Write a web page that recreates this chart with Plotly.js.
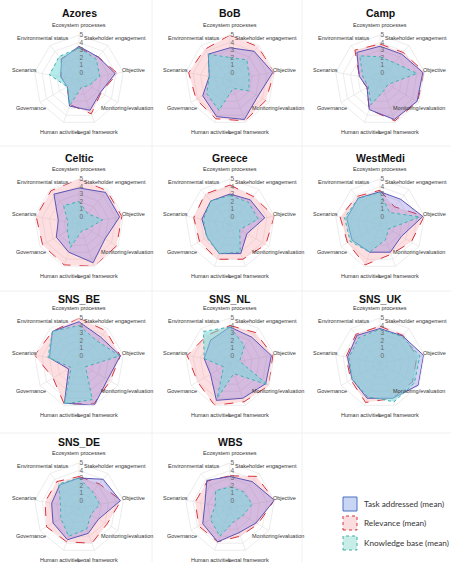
<!DOCTYPE html>
<html><head><meta charset="utf-8">
<script src="https://cdn.plot.ly/plotly-3.0.1.min.js"></script>
<style>html,body{margin:0;padding:0;background:#fff;} #chart{width:451px;height:562px;}</style>
</head><body><div id="chart"></div>
<script>
// axis order, clockwise from top
const categories = ['Ecosystem processes','Stakeholder engagement','Objective','Monitoring/evaluation','Legal framework','Human activities','Governance','Scenarios','Environmental status'];
const radialTicks = [0,1,2,3,4,5];
const regions = ['Azores','BoB','Camp','Celtic','Greece','WestMedi','SNS_BE','SNS_NL','SNS_UK','SNS_DE','WBS'];
const seriesNames = ['Task addressed (mean)','Relevance (mean)','Knowledge base (mean)'];

const taskAzores     = [3.5, 3.0, 3.9, 2.3, 3.3, 2.7, 0.8, 1.5, 2.6];
const relevAzores    = [3.3, 3.0, 4.2, 2.4, 3.8, 2.5, 0.8, 1.4, 2.7];
const knowAzores     = [3.3, 2.6, 1.8, 0.5, 0.0, 2.6, 0.8, 3.0, 3.1];

const taskBoB        = [3.3, 4.0, 4.8, 3.3, 4.6, 4.2, 3.2, 1.8, 3.5];
const relevBoB       = [5.0, 4.8, 5.0, 4.5, 4.8, 4.5, 4.2, 4.6, 4.3];
const knowBoB        = [2.0, 2.5, 1.6, 1.9, 0.2, 3.3, 2.6, 1.8, 3.5];

const taskCamp       = [3.5, 3.5, 4.8, 4.7, 4.6, 3.2, 1.0, 1.8, 3.8];
const relevCamp      = [3.8, 3.8, 5.0, 4.8, 4.8, 3.2, 1.0, 1.8, 4.2];
const knowCamp       = [2.1, 2.0, 4.0, 0.2, 0.5, 2.5, 0.8, 1.3, 3.2];

const taskCeltic     = [3.8, 4.5, 4.5, 3.0, 4.5, 3.0, 2.5, 1.8, 4.2];
const relevCeltic    = [5.0, 4.8, 4.8, 4.8, 5.0, 4.8, 4.6, 4.8, 4.8];
const knowCeltic     = [2.0, 0.8, 2.2, 0.3, 0.0, 2.3, 0.8, 0.5, 2.2];

const taskGreece     = [3.0, 3.2, 3.7, 1.6, 3.2, 3.2, 2.5, 2.8, 3.0];
const relevGreece    = [4.2, 3.8, 5.0, 4.5, 4.0, 4.0, 3.7, 3.9, 4.2];
const knowGreece     = [2.8, 2.8, 2.8, 0.5, 3.0, 3.2, 2.6, 2.6, 3.0];

const taskWestMedi   = [3.3, 3.3, 4.8, 2.3, 3.0, 3.0, 3.3, 3.5, 3.5];
const relevWestMedi  = [3.5, 2.0, 5.0, 3.8, 3.3, 4.8, 4.0, 4.4, 3.8];
const knowWestMedi   = [3.2, 1.0, 4.4, 0.3, 1.2, 3.0, 3.6, 3.8, 3.5];

const taskSNS_BE     = [4.5, 3.5, 4.6, 3.4, 5.0, 4.7, 0.6, 3.0, 4.5];
const relevSNS_BE    = [5.0, 4.6, 4.6, 3.8, 4.8, 4.8, 3.0, 5.0, 4.5];
const knowSNS_BE     = [4.0, 2.8, 4.5, 0.0, 4.2, 4.8, 0.2, 3.2, 4.5];

const taskSNS_NL     = [3.8, 3.5, 4.6, 4.5, 4.0, 4.3, 2.0, 2.5, 3.0];
const relevSNS_NL    = [4.0, 4.3, 4.8, 5.0, 4.5, 5.0, 4.0, 4.8, 3.8];
const knowSNS_NL     = [3.8, 2.0, 0.3, 4.8, 0.5, 4.0, 0.0, 2.5, 4.5];

const taskSNS_UK     = [3.6, 3.7, 4.9, 4.9, 4.0, 4.0, 3.3, 3.4, 3.8];
const relevSNS_UK    = [3.9, 3.8, 4.0, 4.0, 4.0, 4.6, 3.5, 3.6, 4.0];
const knowSNS_UK     = [3.5, 3.6, 4.4, 4.3, 4.5, 3.8, 3.3, 3.2, 3.4];

const taskSNS_DE     = [3.0, 4.0, 4.6, 2.0, 2.6, 3.5, 3.0, 2.7, 3.0];
const relevSNS_DE    = [3.2, 3.2, 4.7, 3.3, 4.0, 3.8, 4.0, 3.6, 3.6];
const knowSNS_DE     = [3.0, 1.8, 1.8, 0.8, 2.0, 3.0, 1.8, 1.5, 3.2];

const taskWBS        = [3.2, 3.6, 5.0, 3.0, 2.5, 3.8, 3.2, 2.4, 3.8];
const relevWBS       = [3.3, 4.5, 5.0, 3.3, 3.0, 3.8, 3.8, 3.7, 3.7];
const knowWBS        = [1.8, 1.8, 2.0, 1.0, 0.8, 3.0, 2.0, 1.0, 2.0];

const taskData  = [taskAzores, taskBoB, taskCamp, taskCeltic, taskGreece, taskWestMedi, taskSNS_BE, taskSNS_NL, taskSNS_UK, taskSNS_DE, taskWBS];
const relevData = [relevAzores, relevBoB, relevCamp, relevCeltic, relevGreece, relevWestMedi, relevSNS_BE, relevSNS_NL, relevSNS_UK, relevSNS_DE, relevWBS];
const knowData  = [knowAzores, knowBoB, knowCamp, knowCeltic, knowGreece, knowWestMedi, knowSNS_BE, knowSNS_NL, knowSNS_UK, knowSNS_DE, knowWBS];

// ---- layout geometry (pixels) ----
const W = 451, H = 562, R = 45, LABEL_R = 1.23;
const colX = [79, 230, 380];
const rowY = [80, 224, 363, 508];
const titleY = [13, 158, 299, 442];

const styles = [
  {fill:'rgba(120,105,215,0.30)', line:{color:'#5a55b5', width:1, dash:'solid'}},
  {fill:'rgba(250,150,160,0.30)', line:{color:'#d8323c', width:1, dash:'dash'}},
  {fill:'rgba(120,218,218,0.55)', line:{color:'#3fb0b0', width:1, dash:'dot'}}
];
const order = [1, 0, 2]; // draw relevance, task, knowledge

const closeLoop = a => a.concat([a[0]]);
const thetaClosed = closeLoop(categories);
const FONT = 'Liberation Sans, Arial, sans-serif';
const LABEL_SIZE = 5.5;

const traces = [];
const layout = {
  width: W, height: H, margin:{l:0,r:0,t:0,b:0},
  paper_bgcolor:'#fff', showlegend:false,
  font:{family:FONT, color:'#333'},
  annotations:[], shapes:[]
};

regions.forEach((name, i) => {
  const row = Math.floor(i/3), col = i%3;
  const cx = colX[col], cy = rowY[row];
  const key = i === 0 ? 'polar' : 'polar' + (i+1);
  const sets = [taskData[i], relevData[i], knowData[i]];
  order.forEach(s => {
    traces.push({
      type:'scatterpolar', subplot:key, name:seriesNames[s],
      r: closeLoop(sets[s]), theta: thetaClosed,
      mode:'lines', fill:'toself', fillcolor:styles[s].fill,
      line:styles[s].line, hoverinfo:'skip'
    });
  });
  layout[key] = {
    domain:{x:[(cx-R)/W,(cx+R)/W], y:[1-(cy+R)/H, 1-(cy-R)/H]},
    bgcolor:'rgba(0,0,0,0)', gridshape:'linear',
    radialaxis:{range:[-1,5], tickvals:radialTicks, ticktext:radialTicks.map(String), angle:90, tickangle:90,
      showline:false, ticks:'', gridcolor:'#e4e4e4', gridwidth:0.7, layer:'above traces',
      tickfont:{size:6.5, color:'#666', family:FONT}},
    angularaxis:{type:'category', categoryarray:categories, direction:'clockwise', rotation:90,
      showline:true, linecolor:'#e4e4e4', linewidth:0.7, gridcolor:'#e4e4e4', gridwidth:0.7, ticks:'',
      showticklabels:false}
  };
  // category labels centred just outside the web, kept inside the page
  categories.forEach((c, k) => {
    const a = (90 - 40*k) * Math.PI/180;
    let lx = cx + LABEL_R*R*Math.cos(a);
    const ly = cy - LABEL_R*R*Math.sin(a);
    const halfW = c.length * LABEL_SIZE * 0.27;
    if (lx + halfW > W - 1) lx = W - 1 - halfW;
    if (lx - halfW < 1) lx = 1 + halfW;
    layout.annotations.push({xref:'paper', yref:'paper', x:lx/W, y:1-ly/H, xanchor:'center', yanchor:'middle',
      text:c, showarrow:false, font:{size:LABEL_SIZE, color:'#333', family:FONT}});
  });
  layout.annotations.push({xref:'paper', yref:'paper', x:cx/W, y:1-titleY[row]/H, xanchor:'center', yanchor:'middle',
    text:'<b>'+name+'</b>', showarrow:false, font:{size:10.5, color:'#111', family:FONT}});
});

// faint panel frames
const frameCol = '#f0f0f0';
[152, 302].forEach(x => layout.shapes.push({type:'line', xref:'paper', yref:'paper', x0:x/W, x1:x/W, y0:0, y1:1, line:{color:frameCol, width:1}}));
[146, 291, 433].forEach(y => layout.shapes.push({type:'line', xref:'paper', yref:'paper', x0:0, x1:1, y0:1-y/H, y1:1-y/H, line:{color:frameCol, width:1}}));

// legend (drawn as shapes + text)
const legendBox = [
  {fill:'#c9d6f3', line:'#4a70c2', dash:'solid'},
  {fill:'#fbdde0', line:'#d8323c', dash:'dot'},
  {fill:'#c6ede7', line:'#45ae9e', dash:'dot'}
];
const legY = [504, 523, 543];
legendBox.forEach((b, k) => {
  layout.shapes.push({type:'rect', xref:'paper', yref:'paper', x0:343/W, x1:357/W, y0:1-(legY[k]+7)/H, y1:1-(legY[k]-7)/H,
    fillcolor:b.fill, line:{color:b.line, width:1, dash:b.dash}});
  layout.annotations.push({xref:'paper', yref:'paper', x:362/W, y:1-legY[k]/H, xanchor:'left', yanchor:'middle',
    text:seriesNames[k], showarrow:false, font:{size:8.2, color:'#333', family:'Lato, Noto Sans, sans-serif'}});
});

Plotly.newPlot('chart', traces, layout, {displayModeBar:false, staticPlot:true});
</script></body></html>
